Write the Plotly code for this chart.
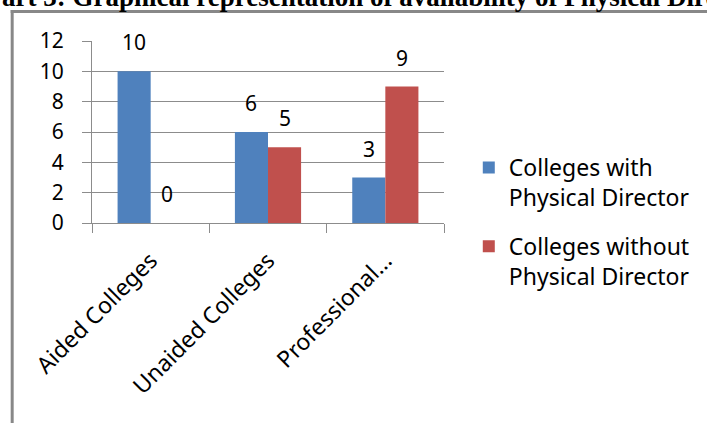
import plotly.graph_objects as go

# ---- data ----
categories = ["Aided Colleges", "Unaided Colleges", "Professional..."]
with_pd = [10, 6, 3]
without_pd = [0, 5, 9]
series_names = ["Colleges with<br>Physical Director", "Colleges without<br>Physical Director"]
series_colors = ["#4F81BD", "#C0504D"]
y_ticks = [0, 2, 4, 6, 8, 10, 12]
title_text = "art 3: Graphical representation of availability of Physical Dire"

# ---- layout geometry (pixels) ----
W, H = 707, 423
PL, PR, PT, PB = 92, 447, 41, 223
BARGAP = 0.436
FONT = "Noto Sans"
FS = 21      # numbers
FS_TXT = 23  # words
GRID = "#8c8c8c"

def px_x(p):
    return (p - PL) / (PR - PL)

def px_y(p):
    return (PB - p) / (PB - PT)

fig = go.Figure()
for name, vals, col, grp in zip(series_names, [with_pd, without_pd], series_colors, ["a", "b"]):
    fig.add_trace(go.Bar(x=categories, y=vals, name=name, marker=dict(color=col, line=dict(width=0)),
                         legendgroup=grp))

# data labels
half = (1 - BARGAP) / 4
annotations = []
for k, vals in enumerate([with_pd, without_pd]):
    off = -half if k == 0 else half
    for i, v in enumerate(vals):
        annotations.append(dict(x=i + off, y=v, xref="x", yref="y", text=str(v), showarrow=False,
                                yanchor="bottom", yshift=13, font=dict(family=FONT, size=FS, color="#000")))

annotations.append(dict(x=px_x(-1), y=px_y(14), xref="paper", yref="paper", xanchor="left", yanchor="bottom",
                        text="<b>" + title_text + "</b>", showarrow=False,
                        font=dict(family="Liberation Serif", size=27, color="#000")))

BORDER = dict(color="#888888", width=3)
shapes = [
    dict(type="line", xref="paper", yref="paper", x0=px_x(10), x1=px_x(720), y0=px_y(11.5), y1=px_y(11.5),
         line=BORDER, layer="above"),
    dict(type="line", xref="paper", yref="paper", x0=px_x(11.5), x1=px_x(11.5), y0=px_y(10), y1=px_y(440),
         line=BORDER, layer="above"),
]

fig.update_layout(
    width=W, height=H,
    margin=dict(l=PL, r=W - PR, t=PT, b=H - PB, pad=0),
    paper_bgcolor="white", plot_bgcolor="white",
    barmode="group", bargap=BARGAP, bargroupgap=0,
    font=dict(family=FONT, size=FS, color="#000"),
    showlegend=True,
    legend=dict(x=px_x(472), xanchor="left", y=px_y(146), yanchor="top", valign="top",
                font=dict(family=FONT, size=FS_TXT, color="#000"), tracegroupgap=16,
                bgcolor="rgba(0,0,0,0)", borderwidth=0),
    annotations=annotations, shapes=shapes,
)
fig.update_yaxes(range=[0, 12], tickvals=y_ticks, showgrid=True, gridcolor=GRID, gridwidth=1,
                 showline=True, linecolor=GRID, linewidth=1, ticks="outside", ticklen=9, tickcolor=GRID,
                 ticklabelstandoff=14, zeroline=False, tickfont=dict(family=FONT, size=FS, color="#000"))
fig.update_xaxes(type="category", tickson="boundaries", ticks="outside", ticklen=9, tickcolor=GRID,
                 showline=True, linecolor=GRID, linewidth=1, tickangle=-45, showgrid=False,
                 ticklabelstandoff=14, tickfont=dict(family=FONT, size=FS_TXT, color="#000"))

fig.write_html("out.html")
